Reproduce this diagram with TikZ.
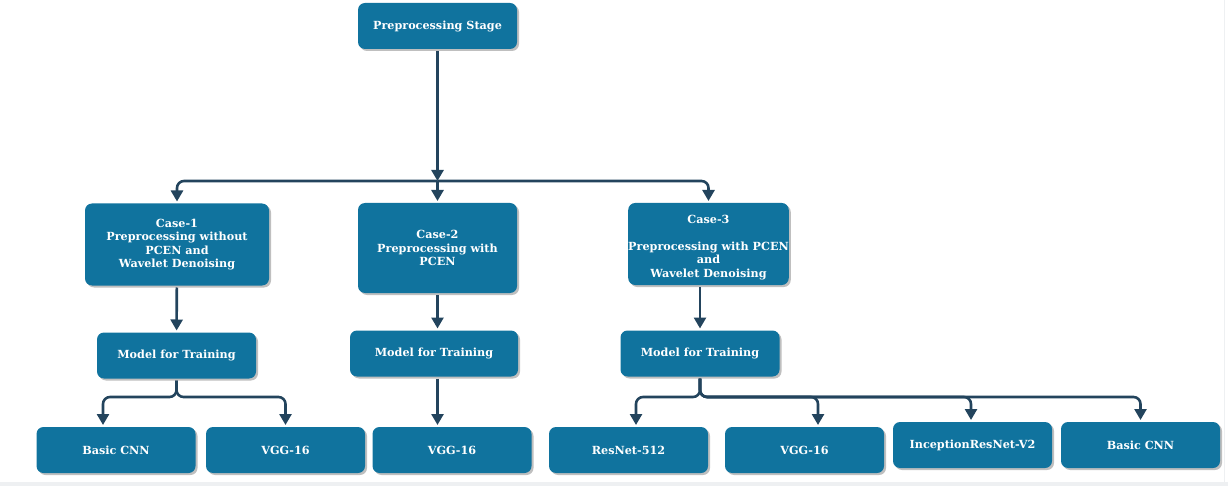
\documentclass[tikz,border=0pt]{standalone}
\usepackage{fontspec}
\setmainfont{DejaVu Serif}
\usepackage{xcolor}
\usepackage{tikz}
\usetikzlibrary{positioning,arrows.meta,calc,shadows}
\definecolor{boxblue}{HTML}{10739E}
\definecolor{linenavy}{HTML}{23445D}
\definecolor{pagegray}{HTML}{EEF0F2}

\begin{document}
\begin{tikzpicture}[x=1pt,y=-1pt,
		blk/.style={fill=boxblue, rounded corners=7pt, text=white, align=center,
			font=\bfseries\fontsize{11.2}{13.5}\selectfont, inner sep=0pt, outer sep=2pt,
			minimum width=159pt, minimum height=46pt,
			drop shadow={shadow xshift=2pt, shadow yshift=-2pt, fill=black!25, opacity=1}},
		conn/.style={draw=linenavy, line width=2.6pt, rounded corners=7pt,
			-{Triangle[length=11pt,width=12pt]}}]
		\useasboundingbox (0,0) rectangle (1228,486);
		% page edge
		\fill[pagegray] (0,482) rectangle (1228,486);
		\draw[pagegray, line width=1.2pt] (1224.5,0) -- (1224.5,482);
		% top
		\node[blk] (pre) at (437.5,26) {Preprocessing Stage};
		% cases
		\node[blk, minimum width=184pt, minimum height=82pt] (c1) at (177,244.5)
			{Case-1\\Preprocessing without\\PCEN and\\Wavelet Denoising};
		\node[blk, minimum height=90pt] (c2) at (437.5,248)
			{Case-2\\Preprocessing with\\PCEN};
		\node[blk, minimum height=82pt] (c3) at (708.5,244)
			{\rule{0pt}{15pt}Case-3\\[13.5pt]Preprocessing with PCEN\\and\\Wavelet Denoising};
		% models
		\node[blk] (m1) at (176.5,355.5) {Model for Training};
		\node[blk, minimum width=168pt] (m2) at (434,353.5) {Model for Training};
		\node[blk] (m3) at (700,353.5) {Model for Training};
		% networks
		\node[blk] (n1) at (116,450) {Basic CNN};
		\node[blk] (n2) at (285.5,450) {VGG-16};
		\node[blk] (n3) at (452,450) {VGG-16};
		\node[blk] (n4) at (628.5,450) {ResNet-512};
		\node[blk] (n5) at (804.5,450) {VGG-16};
		\node[blk] (n6) at (972.5,445) {InceptionResNet-V2};
		\node[blk] (n7) at (1140.5,445) {Basic CNN};
		% split points
		\coordinate (s0) at (437.5,181);
		\coordinate (s1) at (176.5,397);
		\coordinate (s3) at (700,397);
		% stage -> cases
		\draw[conn] (pre) -- (s0);
		\draw[conn] (s0) -| (c1);
		\draw[conn] (s0) -- (c2);
		\draw[conn] (s0) -| (c3);
		% cases -> models
		\draw[conn] (c1) -- (m1);
		\draw[conn] (c2.south) -- (m2.north -| c2.south);
		\draw[conn] (c3.south -| m3.north) -- (m3);
		% models -> networks
		\draw[conn] (m1.south) -- (s1) -| ([xshift=-13pt]n1.north);
		\draw[conn] (m1.south) -- (s1) -| (n2.north);
		\draw[conn] (m2.south -| c2.south) -- (n3.north -| c2.south);
		\draw[conn] (m3.south) -- (s3) -| ([xshift=7.5pt]n4.north);
		\draw[conn] (m3.south) -- (s3) -| ([xshift=13.5pt]n5.north);
		\draw[conn] (m3.south) -- (s3) -| ([xshift=-1.5pt]n6.north);
		\draw[conn] (m3.south) -- (s3) -| (n7.north);
	\end{tikzpicture}
\end{document}
